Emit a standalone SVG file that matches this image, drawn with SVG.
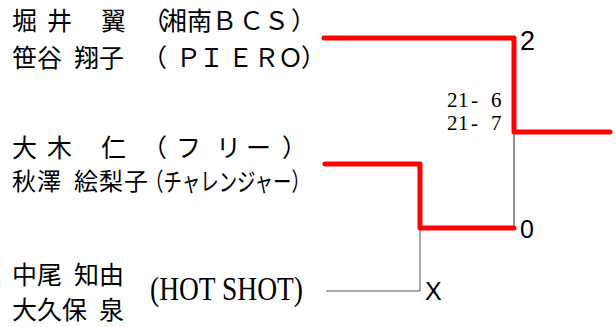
<svg xmlns="http://www.w3.org/2000/svg" width="616" height="327" viewBox="0 0 616 327">
<style>
.jp{font-family:"Noto Sans CJK JP","Noto Sans",sans-serif;font-size:25px;fill:#000}
.ser{font-family:"Liberation Serif","Noto Sans CJK JP",serif;fill:#000}
.sc{font-size:21px}
.res{font-family:"Liberation Sans",Arial,sans-serif;fill:#000}
.win{fill:none;stroke:#ff0000;stroke-width:5;stroke-linecap:round;stroke-linejoin:round}
.thin{fill:none;stroke:#222;stroke-width:1}
.thin2{fill:none;stroke:#555;stroke-width:1}
</style>
<rect width="616" height="327" fill="#fff"/>
<g id="connectors">
<polyline class="thin" points="514,132 514,228"/>
<polyline class="thin2" points="420,228 420,291 326,291"/>
<polyline class="win" points="324,38 514,38 514,132 610,132"/>
<polyline class="win" points="325,164 420,164 420,228 514,228"/>
</g>
<g id="entry1">
<text class="jp" x="12 47 72 101" y="30">堀井　翼</text>
<text class="jp" x="142 162 187 212 239 264 291" y="30">（湘南ＢＣＳ）</text>
<text class="jp" x="12 37 62 74 99" y="67">笹谷　翔子</text>
<text class="jp" x="142 176 199 228 254 278 301" y="67">（ＰＩＥＲＯ）</text>
</g>
<g id="entry2">
<text class="jp" x="12 47 72 101" y="157">大木　仁</text>
<text class="jp" x="142 176 216 246 282" y="157">（フリー）</text>
<text class="jp" x="12 37 62 74 99 124" y="190" style="font-size:24px">秋澤　絵梨子</text>
<text class="jp" x="145" y="191" style="font-size:25px" textLength="165" lengthAdjust="spacingAndGlyphs">（チャレンジャー）</text>
</g>
<g id="entry3">
<text class="jp" x="12 37 62 74 99" y="284">中尾　知由</text>
<text class="jp" x="12 37 62 87 99" y="319">大久保　泉</text>
<text class="ser" x="150" y="300" style="font-size:33px" textLength="153" lengthAdjust="spacingAndGlyphs">(HOT SHOT)</text>
</g>
<g id="match1">
<text class="res" x="520" y="50" style="font-size:27px">2</text>
<text class="ser sc" x="447 458 471 480 491" y="107">21- 6</text>
<text class="ser sc" x="447 458 471 480 491" y="130">21- 7</text>
</g>
<g id="match2">
<text class="res" x="520" y="238" style="font-size:25px">0</text>
<text class="res" x="425" y="300" style="font-size:25px">X</text>
</g>
</svg>
